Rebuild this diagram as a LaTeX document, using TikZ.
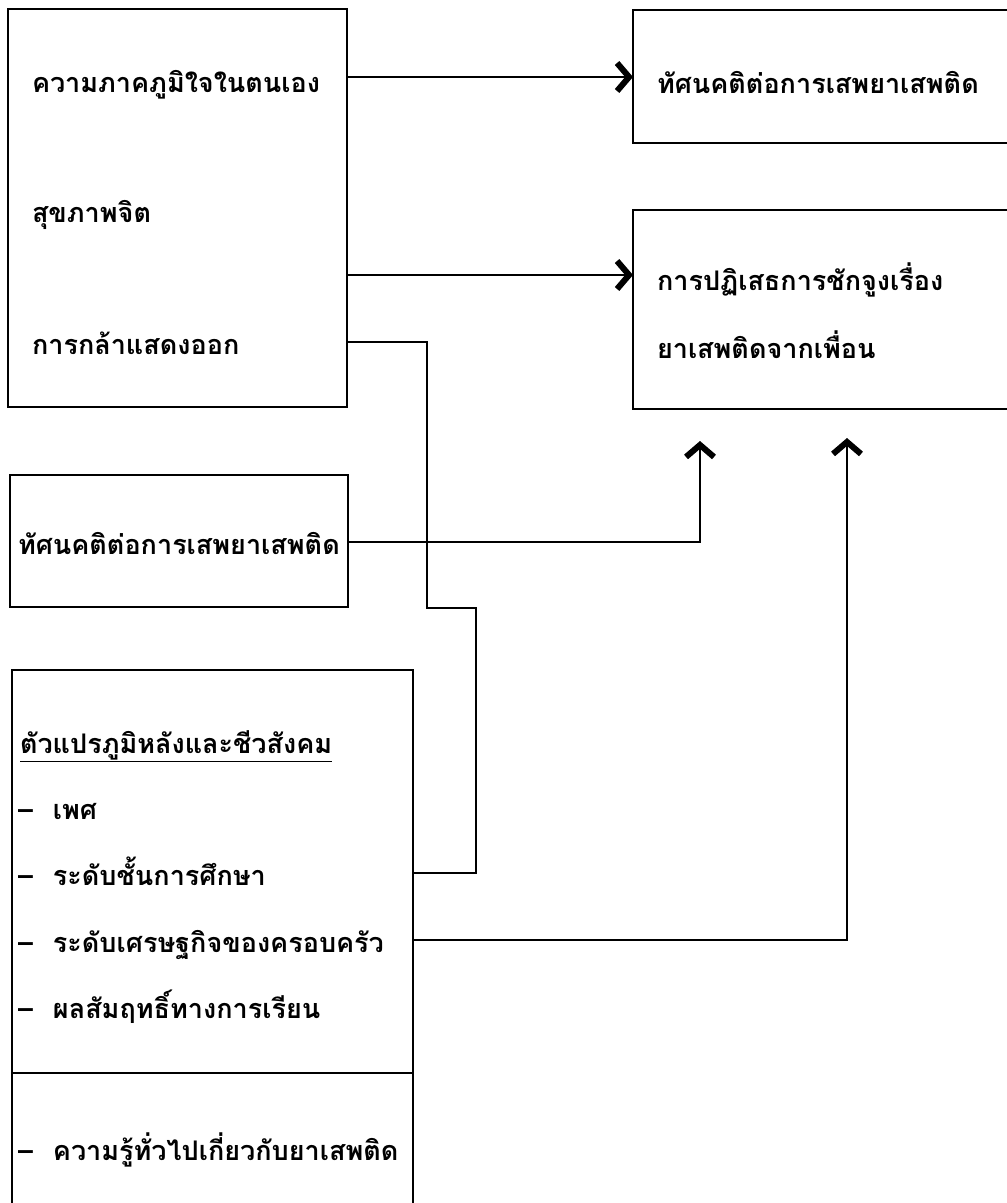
\documentclass[tikz,border=0pt]{standalone}
\usepackage{fontspec}
\newfontfamily\thaifont[Script=Thai]{Loma}
\usetikzlibrary{arrows.meta}
\begin{document}
\begin{tikzpicture}[x=1pt,y=-1pt,
  boxn/.style={draw,line width=2.8pt,inner sep=0pt,outer sep=0pt,anchor=north west},
  txt/.style={inner sep=0pt,outer sep=0pt,anchor=base west,font=\thaifont\bfseries\fontsize{27}{31}\selectfont},
  conn/.style={line width=2.6pt},
  arr/.style={conn,-{Straight Barb[length=12pt,width=28pt,line width=6pt]}}]
\useasboundingbox (0,0) rectangle (1007,1203);
\clip (0,0) rectangle (1007,1203);
% boxes
\node[boxn,minimum width=339pt,minimum height=398pt] (b1) at (8,9) {};
\node[boxn,minimum width=387pt,minimum height=133pt] (b2) at (633,10) {};
\node[boxn,minimum width=387pt,minimum height=199pt] (b3) at (633,210) {};
\node[boxn,minimum width=338pt,minimum height=132pt] (b4) at (10,475) {};
\node[boxn,minimum width=401pt,minimum height=560pt] (b5) at (12,670) {};
\coordinate (dv) at (0,1073);
\draw[line width=2.8pt] (b5.west |- dv) -- (b5.east |- dv);
% texts
\node[txt] (t1) at (32,92) {ความภาคภูมิใจในตนเอง};
\node[txt] (t2) at (32,222) {สุขภาพจิต};
\node[txt] (t3) at (32,354) {การกล้าแสดงออก};
\node[txt] (t4) at (657,93) {ทัศนคติต่อการเสพยาเสพติด};
\node[txt] (t5) at (657,290) {การปฏิเสธการชักจูงเรื่อง};
\node[txt] (t6) at (657,358) {ยาเสพติดจากเพื่อน};
\node[txt] (t7) at (18,554) {ทัศนคติต่อการเสพยาเสพติด};
\node[txt] (h1) at (20,753) {\underline{ตัวแปรภูมิหลังและชีวสังคม}};
\node[txt] (i1) at (18,819) {\makebox[35pt][l]{–}เพศ};
\node[txt] (i2) at (18,885) {\makebox[35pt][l]{–}ระดับชั้นการศึกษา};
\node[txt] (i3) at (18,952) {\makebox[35pt][l]{–}ระดับเศรษฐกิจของครอบครัว};
\node[txt] (i4) at (18,1018) {\makebox[35pt][l]{–}ผลสัมฤทธิ์ทางการเรียน};
\node[txt] (i5) at (18,1160) {\makebox[35pt][l]{–}ความรู้ทั่วไปเกี่ยวกับยาเสพติด};
% connector corner points
\coordinate (r1) at (0,77);
\coordinate (r2) at (0,275);
\coordinate (r3) at (0,342);
\coordinate (k1) at (427,608);
\coordinate (k2) at (476,873);
\coordinate (r4) at (0,542);
\coordinate (a1) at (700,441);
\coordinate (r5) at (0,940);
\coordinate (a2) at (847,438);
% connectors
\draw[arr] (b1.east |- r1) -- (b2.west |- r1);
\draw[arr] (b1.east |- r2) -- (b3.west |- r2);
\draw[conn] (b1.east |- r3) -| (k1) -| (k2) -- (b5.east |- k2);
\draw[arr] (b4.east |- r4) -| (a1);
\draw[arr] (b5.east |- r5) -| (a2);
\end{tikzpicture}
\end{document}
